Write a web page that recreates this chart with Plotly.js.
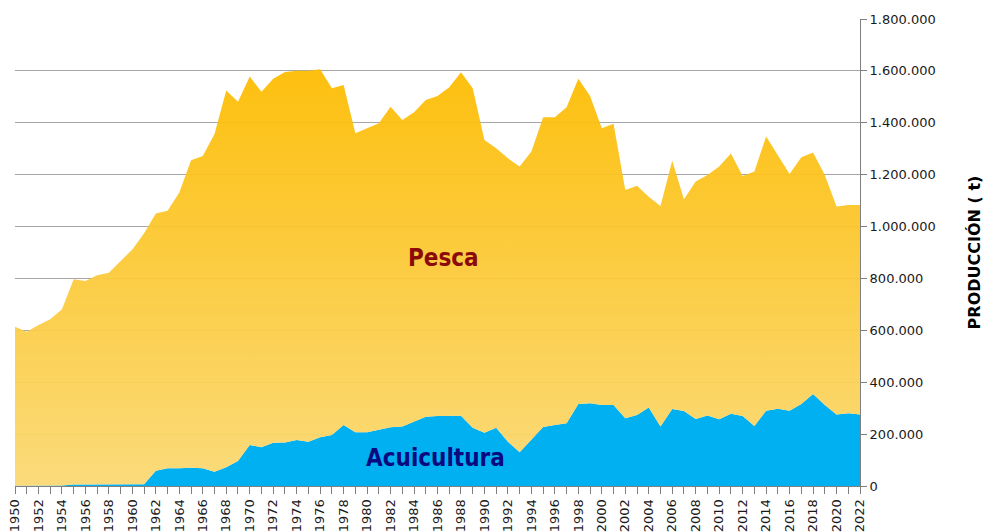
<!DOCTYPE html>
<html>
<head>
<meta charset="utf-8">
<script src="https://cdn.plot.ly/plotly-3.0.1.min.js"></script>
<style>
html,body{margin:0;padding:0;background:#fff;}
#chart{width:985px;height:532px;}
</style>
</head>
<body>
<div id="chart"></div>
<script>
var years = [];
for (var y = 1950; y <= 2022; y++) years.push(y);

// Acuicultura production (t)
var acuicultura = [
  1000, 1000, 1000, 1500, 2000, 6000, 6000, 6000, 6000, 6000,
  7000, 7000, 59000, 68000, 68000, 70000, 68000, 55000, 72000, 96000,
  158000, 149000, 167000, 168000, 177000, 171000, 188000, 197000, 235000, 207000,
  207000, 216000, 226000, 229000, 248000, 267000, 270000, 270000, 271000, 225000,
  205000, 225000, 171000, 130000, 180000, 227000, 235000, 242000, 316000, 319000,
  312000, 312000, 261000, 274000, 303000, 229000, 297000, 289000, 258000, 272000,
  257000, 278000, 270000, 231000, 290000, 298000, 290000, 316000, 355000, 312000,
  276000, 280000, 276000
];

// Pesca production (t)
var pesca = [
  613000, 594000, 620000, 641500, 679000, 791000, 784000, 806000, 816000, 863000,
  905000, 967000, 991000, 993000, 1063000, 1186000, 1204000, 1302000, 1452000, 1385000,
  1420000, 1371000, 1403000, 1428000, 1424000, 1430000, 1418000, 1336000, 1311000, 1153000,
  1172000, 1182000, 1236000, 1182000, 1193000, 1221000, 1233000, 1267000, 1324000, 1308000,
  1129000, 1077000, 1092000, 1101000, 1109000, 1194000, 1186000, 1218000, 1254000, 1184000,
  1067000, 1084000, 880000, 883000, 812000, 850000, 957000, 816000, 916000, 927000,
  974000, 1004000, 925000, 981000, 1057000, 978000, 913000, 951000, 930000, 887000,
  801000, 803000, 807000
];

var labelPesca = "Pesca";
var labelAcui = "Acuicultura";
var yTitle = "PRODUCCIÓN ( t)";

var traces = [
  {
    x: years, y: acuicultura, name: labelAcui, type: 'scatter', mode: 'lines',
    stackgroup: 'one', line: {width: 0, color: '#00B0F0'}, fillcolor: '#00B0F0',
    hoverinfo: 'x+y+name'
  },
  {
    x: years, y: pesca, name: labelPesca, type: 'scatter', mode: 'lines',
    stackgroup: 'one', line: {width: 0, color: '#FDBF00'},
    fillcolor: 'rgba(252,196,20,0.94)',
    fillgradient: {
      type: 'vertical',
      start: 0, stop: 1600000,
      colorscale: [[0, 'rgba(250,216,115,0.94)'], [1, 'rgba(253,188,0,0.94)']]
    },
    hoverinfo: 'x+y+name'
  }
];

var annFont = 'DejaVu Sans Condensed, DejaVu Sans, sans-serif';

var layout = {
  width: 985, height: 532,
  margin: {l: 15, r: 125, t: 19, b: 46},
  paper_bgcolor: '#fff', plot_bgcolor: '#fff',
  showlegend: false,
  separators: ',.',
  font: {family: 'DejaVu Sans, Verdana, sans-serif', color: '#1a1a1a'},
  xaxis: {
    range: [1950, 2022], tick0: 1950, dtick: 2, tickangle: -90,
    ticks: 'outside', ticklen: 7, tickcolor: '#808080', tickwidth: 1,
    minor: {dtick: 1, ticks: 'outside', ticklen: 7, tickcolor: '#808080', showgrid: false},
    showgrid: false, zeroline: false, showline: true, linecolor: '#808080', linewidth: 1,
    tickfont: {size: 13, color: '#1a1a1a'}
  },
  yaxis: {
    side: 'right', range: [0, 1800000], dtick: 200000, tickformat: ',d',
    showgrid: true, gridcolor: '#A6A6A6', gridwidth: 1,
    zeroline: false, showline: true, linecolor: '#808080', linewidth: 1,
    ticks: 'outside', ticklen: 6, tickcolor: '#808080',
    tickfont: {size: 13, color: '#1a1a1a'},
    title: {text: yTitle, font: {size: 16, color: '#000', family: 'DejaVu Sans, Verdana, sans-serif', weight: 'bold'}, standoff: 34}
  },
  annotations: [
    {x: 1986.5, y: 880000, xref: 'x', yref: 'y', text: '<b>' + labelPesca + '</b>', showarrow: false,
     font: {family: annFont, size: 24, color: '#8B0A0A'}},
    {x: 1985.8, y: 108000, xref: 'x', yref: 'y', text: '<b>' + labelAcui + '</b>', showarrow: false,
     font: {family: annFont, size: 24, color: '#0A0A80'}}
  ]
};

Plotly.newPlot('chart', traces, layout, {staticPlot: true, displayModeBar: false});
</script>
</body>
</html>
